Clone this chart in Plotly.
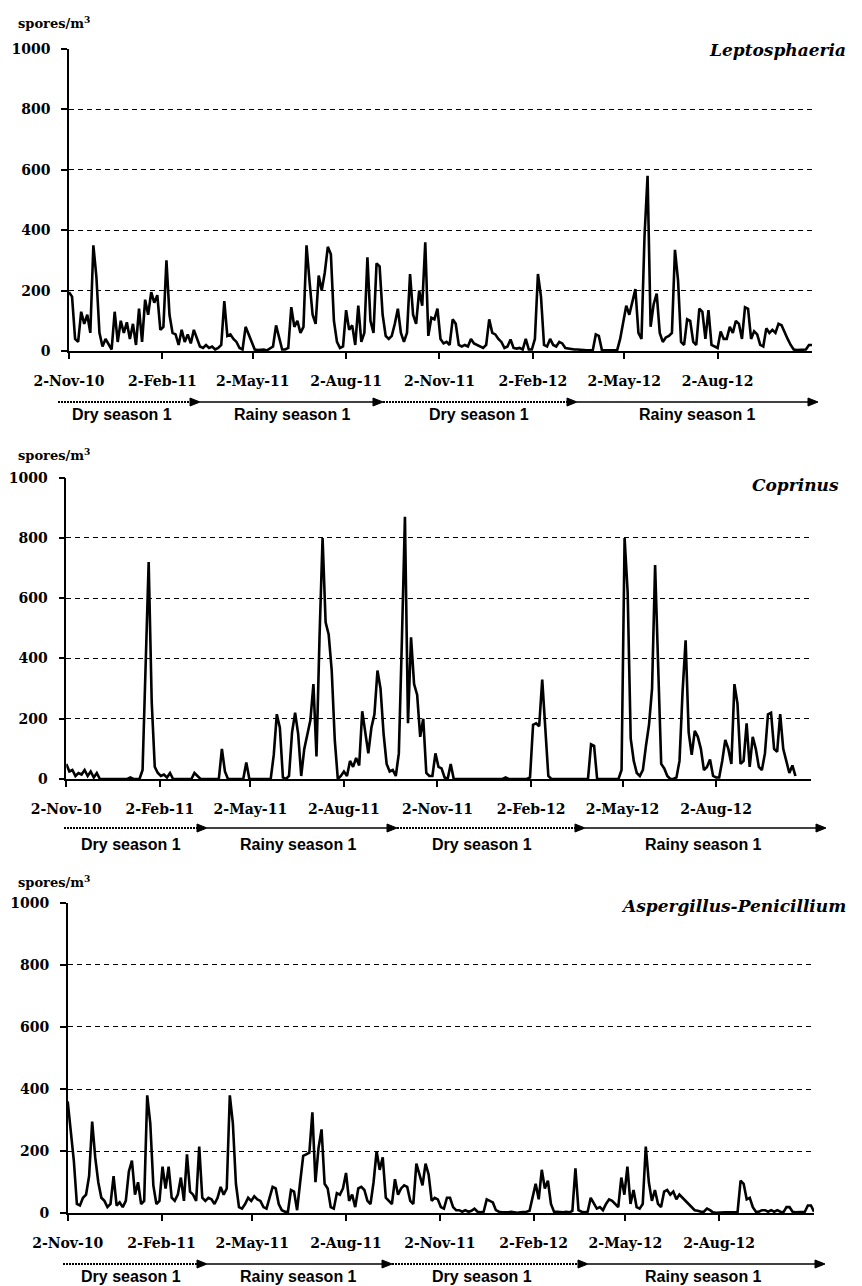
import numpy as np
import pandas as pd
import plotly.graph_objects as go

# ---------------- data (3-day sampling from 2-Nov-2010) ----------------
START = "2010-11-02"
STEP_DAYS = 3

leptosphaeria = [
    195, 180, 40, 30, 130, 90, 120, 60, 350, 245,
    60, 15, 40, 20, 5, 130, 30, 100, 60, 95,
    40, 90, 20, 140, 30, 170, 120, 195, 160, 185,
    70, 80, 300, 120, 60, 55, 20, 70, 30, 55,
    25, 70, 40, 15, 10, 20, 10, 15, 5, 10,
    20, 165, 50, 55, 40, 30, 10, 5, 80, 55,
    30, 5, 3, 3, 5, 2, 10, 15, 85, 40,
    5, 5, 10, 145, 80, 100, 60, 80, 350, 230,
    120, 90, 250, 200, 260, 345, 320, 100, 30, 10,
    15, 135, 70, 85, 20, 150, 30, 60, 310, 100,
    60, 290, 280, 120, 50, 40, 50, 90, 140, 60,
    30, 60, 255, 120, 90, 200, 150, 360, 50, 110,
    105, 140, 40, 25, 30, 20, 105, 90, 20, 15,
    20, 15, 40, 25, 20, 15, 10, 20, 105, 60,
    55, 40, 30, 10, 15, 38, 10, 8, 10, 5,
    40, 5, 5, 40, 255, 180, 20, 15, 40, 20,
    15, 30, 25, 10, 8, 5, 5, 5, 3, 3,
    2, 3, 2, 55, 50, 3, 3, 3, 3, 2,
    2, 40, 90, 150, 120, 160, 205, 60, 40, 380,
    580, 80, 155, 190, 60, 30, 45, 50, 60, 335,
    235, 30, 20, 105, 100, 30, 20, 140, 130, 40,
    135, 20, 15, 10, 65, 40, 40, 80, 60, 100,
    90, 40, 145, 140, 40, 65, 55, 20, 15, 75,
    60, 70, 60, 90, 85, 60, 40, 20, 5, 3,
    3, 3, 5, 20, 20,
]

coprinus = [
    50, 25, 30, 10, 20, 15, 30, 10, 25, 5,
    20, 0, 0, 0, 0, 0, 0, 0, 0, 0,
    0, 5, 0, 0, 0, 30, 360, 720, 255, 40,
    20, 10, 15, 5, 20, 0, 0, 0, 0, 0,
    0, 0, 20, 10, 0, 0, 0, 0, 0, 0,
    0, 100, 25, 0, 0, 0, 0, 0, 0, 55,
    0, 0, 0, 0, 0, 0, 0, 0, 80, 215,
    170, 5, 0, 10, 155, 220, 150, 10, 100, 150,
    195, 315, 75, 470, 800, 520, 480, 360, 130, 0,
    10, 25, 10, 60, 40, 70, 45, 225, 150, 85,
    170, 215, 360, 300, 150, 50, 25, 30, 10, 85,
    460, 870, 185, 470, 315, 280, 140, 200, 20, 10,
    10, 85, 40, 35, 5, 0, 50, 0, 0, 0,
    0, 0, 0, 0, 0, 0, 0, 0, 0, 0,
    0, 0, 0, 0, 5, 0, 0, 0, 0, 0,
    0, 0, 5, 180, 185, 175, 330, 175, 10, 0,
    0, 0, 0, 0, 0, 0, 0, 0, 0, 0,
    0, 0, 115, 110, 0, 0, 0, 0, 0, 0,
    0, 0, 30, 800, 620, 135, 60, 20, 10, 30,
    110, 180, 300, 710, 375, 50, 35, 10, 0, 0,
    5, 60, 290, 460, 155, 80, 160, 140, 100, 30,
    40, 65, 10, 5, 5, 60, 130, 100, 50, 315,
    250, 50, 60, 185, 40, 140, 100, 40, 30, 85,
    215, 220, 100, 90, 215, 100, 60, 20, 45, 10,
]

aspergillus_penicillium = [
    360, 270, 170, 30, 25, 50, 60, 120, 295, 180,
    100, 50, 40, 20, 30, 120, 25, 35, 20, 40,
    135, 170, 60, 100, 30, 40, 380, 290, 90, 30,
    40, 150, 80, 150, 50, 40, 60, 115, 40, 190,
    70, 60, 40, 215, 50, 40, 50, 45, 30, 50,
    85, 60, 80, 380, 290, 95, 20, 15, 30, 50,
    40, 55, 45, 40, 20, 15, 50, 85, 80, 30,
    10, 5, 5, 75, 70, 10, 100, 185, 190, 195,
    325, 100, 210, 270, 95, 80, 20, 15, 65, 60,
    80, 130, 40, 60, 20, 80, 85, 75, 40, 30,
    100, 200, 140, 180, 50, 40, 30, 110, 60, 80,
    90, 85, 40, 30, 160, 125, 90, 160, 125, 40,
    50, 45, 20, 15, 50, 50, 20, 10, 10, 5,
    10, 5, 8, 15, 5, 3, 5, 45, 40, 35,
    10, 5, 3, 2, 3, 5, 3, 2, 3, 3,
    5, 8, 50, 95, 45, 140, 80, 105, 30, 5,
    5, 3, 3, 5, 3, 8, 145, 10, 5, 3,
    5, 50, 30, 15, 20, 10, 30, 45, 40, 30,
    20, 115, 60, 150, 30, 75, 20, 15, 30, 215,
    100, 40, 75, 30, 20, 70, 75, 60, 70, 45,
    60, 50, 40, 30, 20, 10, 8, 5, 5, 15,
    10, 3, 2, 3, 2, 3, 3, 3, 3, 3,
    105, 95, 45, 50, 20, 5, 5, 10, 10, 5,
    10, 5, 10, 5, 3, 20, 20, 5, 3, 3,
    3, 5, 25, 25, 5,
]

species = ["Leptosphaeria", "Coprinus", "Aspergillus-Penicillium"]
series = [leptosphaeria, coprinus, aspergillus_penicillium]

tick_dates = ["2010-11-02", "2011-02-02", "2011-05-02", "2011-08-02",
              "2011-11-02", "2012-02-02", "2012-05-02", "2012-08-02"]
tick_labels = ["2-Nov-10", "2-Feb-11", "2-May-11", "2-Aug-11",
               "2-Nov-11", "2-Feb-12", "2-May-12", "2-Aug-12"]
y_ticks = [0, 200, 400, 600, 800, 1000]
y_grid = [200, 400, 600, 800]
season_labels = ["Dry season 1", "Rainy season 1", "Dry season 1", "Rainy season 1"]
season_dotted = [True, False, True, False]
y_label = "spores/m<sup>3</sup>"

# ---------------- layout geometry (pixels) ----------------
W, H = 862, 1286
panels = [
    dict(x0=69, x1=812, ytop=49, ybot=351, lab_y=23, sp_y=50, sp_x=848,
         arr_y=402, arr_x=[58, 200, 383, 577, 818], txt_y=414, txt_x=[122, 292, 479, 697]),
    dict(x0=66.3, x1=810.7, ytop=477.7, ybot=779, lab_y=454, sp_y=485, sp_x=841,
         arr_y=828, arr_x=[64, 207, 397, 585, 826], txt_y=844, txt_x=[131, 298, 482, 703]),
    dict(x0=67.7, x1=814, ytop=902.7, ybot=1213.3, lab_y=881, sp_y=906, sp_x=848,
         arr_y=1264, arr_x=[63, 207, 392, 588, 825], txt_y=1276, txt_x=[131, 298, 482, 703]),
]
X_RANGE = ["2010-11-02", "2012-11-03"]

def px(x):
    return x / W

def py(y):
    return 1 - y / H

TICK_FONT = dict(family="DejaVu Serif", size=14, color="black", weight="bold")
SERIF = "DejaVu Serif"
SANS = "Liberation Sans"

fig = go.Figure()
shapes = []
annotations = []

for k, (name, vals, p) in enumerate(zip(species, series, panels)):
    n = len(vals)
    dates = pd.Timestamp(START) + pd.to_timedelta(np.arange(n) * STEP_DAYS, unit="D")
    sfx = "" if k == 0 else str(k + 1)
    fig.add_trace(go.Scatter(
        x=dates, y=vals, mode="lines",
        line=dict(color="black", width=2.6),
        xaxis="x" + sfx, yaxis="y" + sfx, showlegend=False, hoverinfo="skip",
    ))
    fig.layout["xaxis" + sfx] = dict(
        type="date", domain=[px(p["x0"]), px(p["x1"])], anchor="y" + sfx,
        range=X_RANGE, tickmode="array", tickvals=tick_dates, ticktext=tick_labels,
        ticks="outside", ticklen=6, tickwidth=1.5, tickcolor="black",
        showline=True, linecolor="black", linewidth=1.5, showgrid=False,
        zeroline=False, tickfont=TICK_FONT, ticklabelstandoff=10, fixedrange=True,
        automargin=False,
    )
    fig.layout["yaxis" + sfx] = dict(
        domain=[py(p["ybot"]), py(p["ytop"])], anchor="x" + sfx,
        range=[0, 1000], tickmode="array", tickvals=y_ticks,
        ticks="outside", ticklen=6, tickwidth=1.5, tickcolor="black",
        showline=True, linecolor="black", linewidth=1.5, showgrid=False,
        zeroline=False, tickfont=TICK_FONT, ticklabelstandoff=8,
        minor=dict(tickmode="array", tickvals=y_grid, showgrid=True,
                   gridcolor="black", gridwidth=1, griddash="5px,4px", ticks=""),
        fixedrange=True, automargin=False,
    )
    # y unit label
    annotations.append(dict(
        x=px(16), y=py(p["lab_y"]), xref="paper", yref="paper",
        xanchor="left", yanchor="middle", showarrow=False,
        text="<b>" + y_label + "</b>", font=dict(family=SERIF, size=13, color="black"),
    ))
    # species label
    annotations.append(dict(
        x=px(p["sp_x"]), y=py(p["sp_y"]), xref="paper", yref="paper",
        xanchor="right", yanchor="middle", showarrow=False,
        text="<b><i>" + name + "</i></b>", font=dict(family=SERIF, size=17, color="black"),
    ))
    # season arrows and labels
    ax = p["arr_x"]
    ay = p["arr_y"]
    for s in range(4):
        dotted = season_dotted[s]
        head = ax[s + 1]
        shapes.append(dict(
            type="line", xref="paper", yref="paper",
            x0=px(ax[s]), x1=px(head - 6), y0=py(ay), y1=py(ay),
            line=dict(color="black", width=2 if dotted else 1.5,
                      dash="2px,1px" if dotted else "solid"),
        ))
        shapes.append(dict(
            type="path", xref="paper", yref="paper",
            path="M {:.5f},{:.5f} L {:.5f},{:.5f} L {:.5f},{:.5f} Z".format(
                px(head), py(ay), px(head - 10), py(ay - 4), px(head - 10), py(ay + 4)),
            fillcolor="black", line=dict(color="black", width=1),
        ))
        annotations.append(dict(
            x=px(p["txt_x"][s]), y=py(p["txt_y"]), xref="paper", yref="paper",
            xanchor="center", yanchor="middle", showarrow=False,
            text="<b>" + season_labels[s] + "</b>",
            font=dict(family=SANS, size=16, color="black"),
        ))

fig.update_layout(
    width=W, height=H, margin=dict(l=0, r=0, t=0, b=0),
    paper_bgcolor="white", plot_bgcolor="white",
    shapes=shapes, annotations=annotations, showlegend=False,
)

fig.write_html(
    "out.html",
    config={"displayModeBar": False},
    post_script="document.body.style.margin='0px';document.body.style.overflow='hidden';",
)
